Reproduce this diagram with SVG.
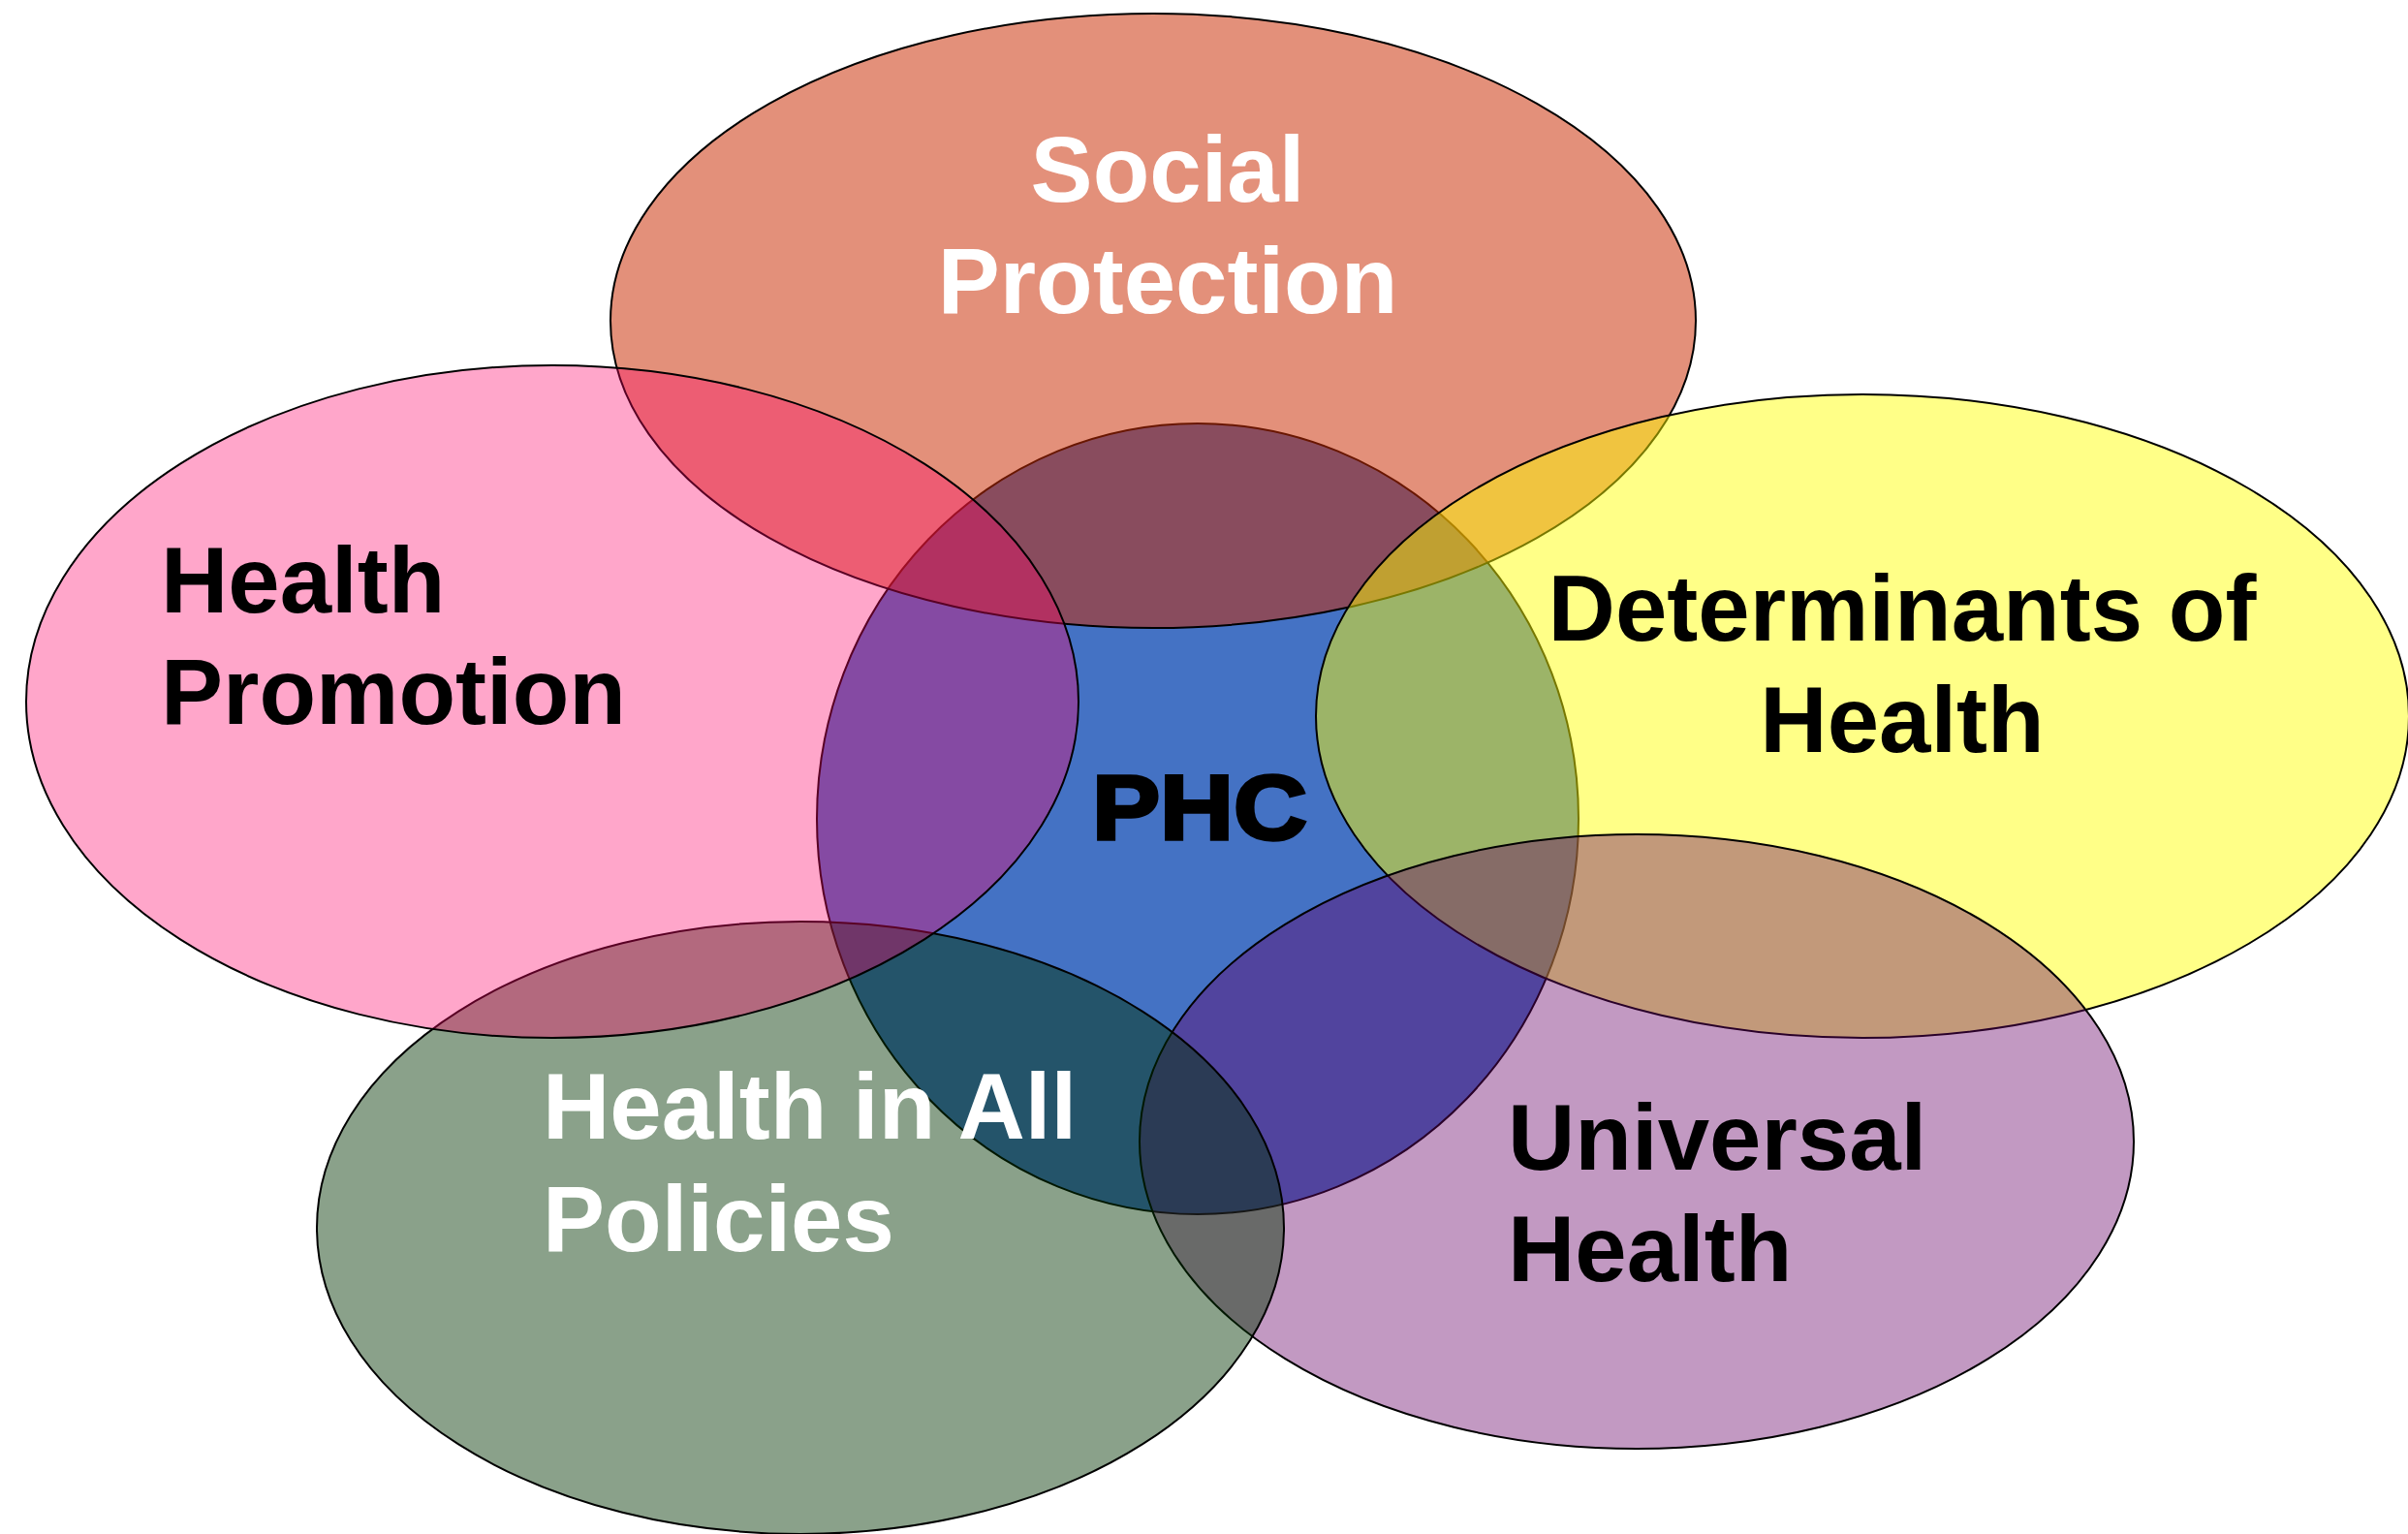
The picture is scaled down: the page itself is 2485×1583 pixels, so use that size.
<svg xmlns="http://www.w3.org/2000/svg" width="2485" height="1583" viewBox="0 0 2485 1583">
  <style>
    .ring { stroke: #000; stroke-width: 2; }
    .lbl { font-family: "Liberation Sans", Arial, Helvetica, sans-serif; font-weight: bold; font-size: 96px; }
    .dark { fill: #000; }
    .light { fill: #fff; }
    .core { font-family: "Liberation Sans", Arial, Helvetica, sans-serif; font-weight: bold; font-size: 94px; fill: #000; stroke: #000; stroke-width: 3.5; }
  </style>
  <rect width="2485" height="1583" fill="#fff"/>

  <!-- Circles are stacked bottom to top; translucent fills tint whatever lies beneath -->
  <g id="phc">
    <ellipse class="ring" cx="1236" cy="845" rx="393" ry="408" fill="#4472C4"/>
  </g>
  <g id="social-protection">
    <ellipse class="ring" cx="1190" cy="331" rx="560" ry="317" fill="rgb(201,43,0)" fill-opacity="0.52"/>
  </g>
  <g id="determinants-of-health">
    <ellipse class="ring" cx="1922" cy="739" rx="564" ry="332" fill="#FFFF00" fill-opacity="0.47"/>
  </g>
  <g id="universal-health">
    <ellipse class="ring" cx="1689" cy="1178" rx="513" ry="317" fill="#660066" fill-opacity="0.4"/>
  </g>
  <g id="health-in-all-policies">
    <ellipse class="ring" cx="826" cy="1267" rx="499" ry="316" fill="#003300" fill-opacity="0.46"/>
  </g>
  <g id="health-promotion">
    <ellipse class="ring" cx="570" cy="724" rx="543" ry="347" fill="#FF0066" fill-opacity="0.35"/>
  </g>

  <g id="connectors"/>

  <!-- Labels sit above every fill -->
  <g id="labels">
    <text class="lbl light" text-anchor="middle" x="1205" y="208">Social</text>
    <text class="lbl light" text-anchor="middle" x="1205" y="323">Protection</text>

    <text class="lbl dark" x="166" y="632">Health</text>
    <text class="lbl dark" x="166" y="747">Promotion</text>

    <text class="lbl dark" text-anchor="middle" x="1963" y="661">Determinants of</text>
    <text class="lbl dark" text-anchor="middle" x="1963" y="776">Health</text>

    <text class="lbl dark" x="1556" y="1207">Universal</text>
    <text class="lbl dark" x="1556" y="1322">Health</text>

    <text class="lbl light" x="560" y="1175">Health in All</text>
    <text class="lbl light" x="560" y="1291">Policies</text>

    <text class="core" text-anchor="middle" transform="translate(1238,866) scale(1.12,1)" x="0" y="0">PHC</text>
  </g>
</svg>
